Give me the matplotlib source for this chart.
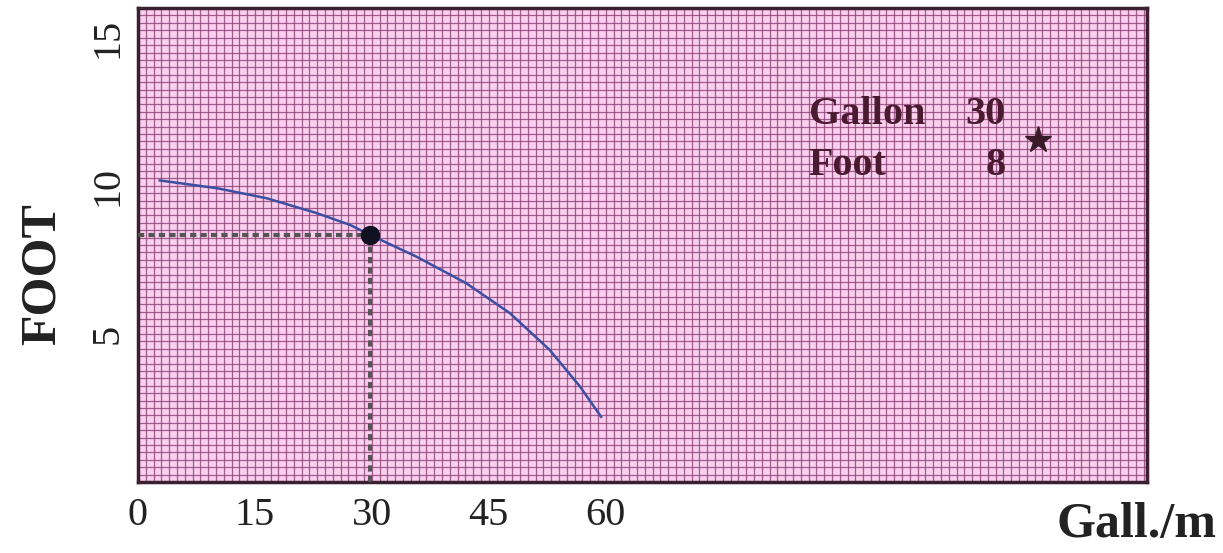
import matplotlib.pyplot as plt
from matplotlib.ticker import MultipleLocator

# pump curve
flow = [2.8, 10.1, 16.5, 22.9, 27.2, 29.7, 35.7, 42.1, 47.7, 52.8, 56.7, 59.4]
head = [10.18, 9.92, 9.58, 9.08, 8.68, 8.35, 7.61, 6.71, 5.70, 4.46, 3.22, 2.2]

duty_flow = 29.7
duty_head = 8.35

x_ticks = [0, 15, 30, 45, 60]
y_ticks = [5, 10, 15]

note_labels = ["Gallon", "Foot"]
note_values = ["30", "8"]


def main() -> None:
    fig = plt.figure(figsize=(12.23, 5.53), dpi=100)
    ax = fig.add_axes([0.1128, 0.1284, 0.825, 0.857])
    ax.set_facecolor("#fbd0ee")

    ax.set_xlim(0, 129.4)
    ax.set_ylim(0, 16)

    ax.xaxis.set_minor_locator(MultipleLocator(1))
    ax.yaxis.set_minor_locator(MultipleLocator(0.25))
    ax.set_xticks(x_ticks)
    ax.set_yticks(y_ticks)
    ax.grid(which="both", color="#8c3f76", linewidth=0.9, alpha=0.8)
    ax.set_axisbelow(True)
    ax.tick_params(which="both", length=0)

    serif = ["Liberation Serif", "DejaVu Serif"]
    ax.set_xticklabels([str(v) for v in x_ticks], family=serif,
                       fontsize=29, color="#222222")
    ax.set_yticklabels([str(v) for v in y_ticks], family=serif,
                       fontsize=29, color="#222222", rotation=90, va="center")
    ax.tick_params(axis="x", pad=11)
    ax.tick_params(axis="y", pad=8)

    for s in ax.spines.values():
        s.set_color("#3a2030")
        s.set_linewidth(2.5)

    ax.plot(flow, head, color="#3d4fa0", linewidth=1.8, zorder=3)
    ax.plot([0, duty_flow], [duty_head, duty_head], color="#555555",
            linestyle=(0, (1.5, 1)), linewidth=3, zorder=3)
    ax.plot([duty_flow, duty_flow], [0, duty_head], color="#555555",
            linestyle=(0, (1.5, 1)), linewidth=3, zorder=3)
    ax.plot(duty_flow, duty_head, "o", color="#111122", markersize=13, zorder=4)

    note_color = "#4a1a30"
    for i, (lab, val) in enumerate(zip(note_labels, note_values)):
        y = 12.4 - i * 1.7
        ax.text(86.0, y, lab, family=serif, fontweight="bold", fontsize=29,
                color=note_color, va="center", ha="left")
        ax.text(111.3, y, val, family=serif, fontweight="bold", fontsize=29,
                color=note_color, va="center", ha="right")
    ax.plot(115.4, 11.55, "*", color="#3a1a28", markersize=20, zorder=4)

    fig.text(0.035, 0.505, "FOOT", family=serif, fontweight="bold",
             fontsize=36, color="#222222", rotation=90, ha="center", va="center")
    fig.text(0.995, 0.05, "Gall./m", family=serif, fontweight="bold",
             fontsize=36, color="#222222", ha="right", va="center")

    fig.savefig("out.png", dpi=100)


if __name__ == "__main__":
    main()
